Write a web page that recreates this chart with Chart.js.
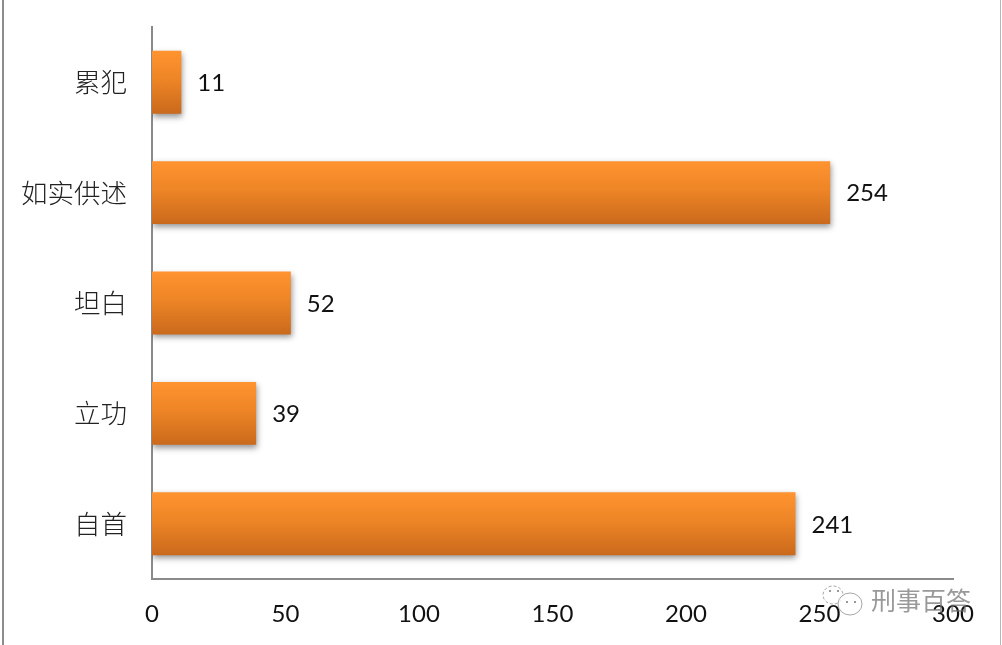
<!DOCTYPE html>
<html>
<head>
<meta charset="utf-8">
<script src="https://cdn.jsdelivr.net/npm/chart.js@4"></script>
<style>
html,body{margin:0;padding:0;background:#fff;}
#wrap{position:relative;width:1002px;height:645px;overflow:hidden;}
#wrap:before{content:"";position:absolute;left:2px;top:0;width:2px;height:645px;background:#8c8c8c;}
#wrap:after{content:"";position:absolute;left:1000px;top:0;width:1px;height:645px;background:#b5b5b5;}
canvas{position:absolute;left:0;top:0;}
</style>
</head>
<body>
<div id="wrap"><canvas id="c" width="1002" height="645"></canvas></div>
<script>
const categories = ["累犯", "如实供述", "坦白", "立功", "自首"];
const seriesValues = [11, 254, 52, 39, 241];
const watermarkText = "刑事百答";
const cjk = '"Noto Sans CJK SC", sans-serif';
const latin = 'Lato, "Open Sans", sans-serif';

const barGradient = (ctx) => {
  const chart = ctx.chart;
  if (!chart.chartArea || ctx.dataIndex === undefined) return "#e87f25";
  const y = chart.scales.y.getPixelForValue(ctx.dataIndex);
  const g = chart.ctx.createLinearGradient(0, y - 32, 0, y + 32);
  g.addColorStop(0, "#ff9430");
  g.addColorStop(0.45, "#ee8526");
  g.addColorStop(1, "#c9691c");
  return g;
};

const barShadow = {
  id: "barShadow",
  beforeDatasetDraw(chart) {
    const c = chart.ctx;
    c.save();
    c.shadowColor = "rgba(0,0,0,0.42)";
    c.shadowBlur = 6;
    c.shadowOffsetX = 1;
    c.shadowOffsetY = 3;
  },
  afterDatasetDraw(chart) { chart.ctx.restore(); }
};

const valueLabels = {
  id: "valueLabels",
  afterDatasetsDraw(chart) {
    const c = chart.ctx;
    c.save();
    c.font = "24px " + latin;
    c.fillStyle = "#111";
    c.textAlign = "left";
    c.textBaseline = "middle";
    chart.getDatasetMeta(0).data.forEach((bar, i) => {
      c.fillText(String(seriesValues[i]), bar.x + 16, bar.y + 1);
    });
    c.restore();
  }
};

const watermark = {
  id: "watermark",
  afterDraw(chart) {
    const c = chart.ctx;
    c.save();
    c.font = "25px " + cjk;
    c.fillStyle = "rgba(110,110,110,0.7)";
    c.textAlign = "left";
    c.textBaseline = "middle";
    c.fillText(watermarkText, 871, 600);
    c.strokeStyle = "rgba(120,120,120,0.65)";
    c.lineWidth = 1;
    c.setLineDash([3, 2]);
    c.beginPath();
    c.ellipse(833, 595, 10, 9, 0, 0, Math.PI * 2);
    c.stroke();
    c.setLineDash([]);
    c.fillStyle = "rgba(255,255,255,0.8)";
    c.beginPath();
    c.ellipse(850, 604, 12, 11, 0, 0, Math.PI * 2);
    c.fill();
    c.stroke();
    c.fillStyle = "rgba(110,110,110,0.7)";
    [[846, 601], [854, 601], [829, 590], [837, 590]].forEach(([x, y]) => c.fillRect(x, y, 2, 2));
    c.restore();
  }
};

new Chart(document.getElementById("c"), {
  type: "bar",
  data: {
    labels: categories,
    datasets: [{
      data: seriesValues,
      backgroundColor: barGradient,
      borderWidth: 0,
      barPercentage: 0.57,
      categoryPercentage: 1
    }]
  },
  options: {
    indexAxis: "y",
    responsive: false,
    animation: false,
    devicePixelRatio: 1,
    layout: { padding: { top: 27, right: 49, left: 0, bottom: 0 } },
    plugins: { legend: { display: false }, tooltip: { enabled: false }, title: { display: false } },
    scales: {
      x: {
        min: 0, max: 300,
        ticks: { stepSize: 50, color: "#111", padding: 21, maxRotation: 0, font: { family: latin, size: 24 } },
        grid: { display: false, drawTicks: false },
        border: { display: true, color: "#8a8a8a", width: 2 },
        afterFit(s) { s.height = 66; }
      },
      y: {
        ticks: { color: "#222", padding: 25, font: { family: cjk, size: 26.5, weight: "300" } },
        grid: { display: false, drawTicks: false },
        border: { display: true, color: "#8a8a8a", width: 2 },
        afterFit(s) { s.width = 152; s.paddingTop = 0; s.paddingBottom = 0; }
      }
    }
  },
  plugins: [barShadow, valueLabels, watermark]
});
</script>
</body>
</html>
